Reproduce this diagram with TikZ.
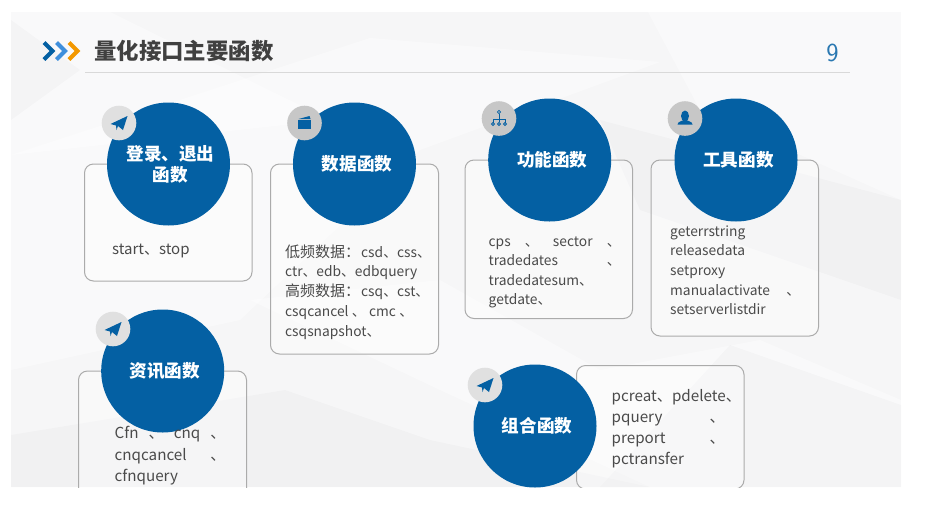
\documentclass[tikz,border=0pt]{standalone}
\usepackage{fontspec}
\setmainfont{Noto Sans CJK SC}
\usetikzlibrary{calc}
\definecolor{bluemain}{HTML}{0460A3}
\definecolor{bluemid}{HTML}{3F8FDC}
\definecolor{orangech}{HTML}{F39800}
\definecolor{txt}{HTML}{4A4A4A}
\definecolor{ttl}{HTML}{404040}
\definecolor{edge}{HTML}{ABABAB}
\definecolor{slide}{HTML}{F6F6F7}
\tikzset{
  x=1pt,y=-1pt,
  bigc/.style={circle,fill=bluemain,minimum size=123pt,inner sep=0pt,text=white,font=\fontsize{17.6}{21}\selectfont\bfseries,align=center},
  smallc/.style={circle,minimum size=34.6pt,inner sep=0pt},
  card/.style={draw=edge,line width=1pt,rounded corners=9pt,fill=white,fill opacity=0.35},
  ln/.style={anchor=base west,inner sep=0pt,text=txt,font=\fontsize{13.8}{16}\selectfont},
  lnb/.style={anchor=base west,inner sep=0pt,text=txt,font=\fontsize{15.2}{18}\selectfont},
  chev/.style={line width=4pt,miter limit=10},
  lite/.style={fill=white,draw=none,fill opacity=0.4},
  dark/.style={fill=black,draw=none,fill opacity=0.018},
}
\newcommand{\plane}[1]{\fill[bluemain] ($(#1)+(-8.5,1)$) -- ($(#1)+(8.5,-7)$) -- ($(#1)+(4,7)$) -- ($(#1)+(-1,3)$) -- ($(#1)+(-2.5,7)$) -- ($(#1)+(-3,2.5)$) -- cycle;}
\newcommand{\cjkbig}[1]{{\fontsize{15}{16}\selectfont #1}}
\begin{document}
\begin{tikzpicture}
\useasboundingbox (0,0) rectangle (934,528);
\fill[white] (0,0) rectangle (934,528);
\begin{scope}
\clip (11,12) rectangle (901,487);
\fill[slide] (11,12) rectangle (901,487);
% background facets
\path[lite] (11,155) -- (370,38) -- (660,62) -- (420,150) -- (240,320) -- (11,370) -- cycle;
\path[lite] (11,12) -- (110,12) -- (330,120) -- (11,155) -- cycle;
\path[lite] (648,12) -- (901,12) -- (901,200) -- (700,110) -- cycle;
\path[lite] (250,300) -- (440,280) -- (600,370) -- (760,340) -- (901,400) -- (901,487) -- (650,487) -- (440,390) -- cycle;
\path[dark] (11,435) -- (285,390) -- (430,440) -- (650,487) -- (11,487) -- cycle;
\path[dark] (730,345) -- (901,405) -- (901,487) -- (600,487) -- cycle;
\path[dark] (600,120) -- (901,200) -- (901,300) -- (640,210) -- cycle;
\path[dark] (11,20) -- (80,70) -- (11,120) -- cycle;
% rule and title
\node[anchor=west,inner sep=0pt,text=ttl,font=\fontsize{22.4}{24}\selectfont\bfseries] (title) at (94,51) {量化接口主要函数};
\node[inner sep=0pt,text=bluemain!85!white,font=\fontsize{26}{26}\selectfont\sffamily] (page) at (832.5,53) {9};
\coordinate (ruleL) at (85,72.5);
\coordinate (ruleR) at (849.5,72.5);
\draw[line width=1.6pt,draw=black!15] (ruleL) -- (ruleR);
\draw[chev,draw=bluemain] (44,42.5) -- (52.5,51) -- (44,59.5);
\draw[chev,draw=bluemid] (56.5,42.5) -- (65,51) -- (56.5,59.5);
\draw[chev,draw=orangech] (69,42.5) -- (77.5,51) -- (69,59.5);
% cards
\path[card] (84.5,164) rectangle (252,281); \node[inner sep=0pt] (card1) at (168,222) {};
\path[card] (270.5,164) rectangle (438.5,354); \node[inner sep=0pt] (card2) at (354,259) {};
\path[card] (465,160) rectangle (632.5,318.5); \node[inner sep=0pt] (card3) at (549,239) {};
\path[card] (651,160) rectangle (818.5,336); \node[inner sep=0pt] (card4) at (735,248) {};
\path[card] (78.5,371) rectangle (246.5,510); \node[inner sep=0pt] (card5) at (162,440) {};
\path[card] (576.5,365.5) rectangle (744,489); \node[inner sep=0pt] (card6) at (660,427) {};
% circles
\node[bigc] (c1) at (168.5,164) {\hspace*{4pt}登录、退出\\\hspace*{4pt}函数};
\node[bigc] (c2) at (354.5,164) {\hspace*{5pt}数据函数};
\node[bigc] (c3) at (549.7,160) {\hspace*{5pt}功能函数};
\node[bigc] (c4) at (736,160) {\hspace*{5pt}工具函数};
\node[bigc] (c5) at (162.7,371) {\hspace*{4pt}资讯函数};
\node[bigc] (c6) at (535,426) {\hspace*{4pt}组合函数};
\node[smallc,fill=black!12] (s1) at (119,123) {};
\node[smallc,fill=black!22] (s2) at (304.5,123) {};
\node[smallc,fill=black!22] (s3) at (499,118.5) {};
\node[smallc,fill=black!22] (s4) at (685,118.5) {};
\node[smallc,fill=black!12] (s5) at (113,329) {};
\node[smallc,fill=black!12] (s6) at (485,385) {};
% icons
\plane{s1}
\plane{s5}
\plane{s6}
\fill[bluemain] ($(s2)+(-6.5,-3)$) rectangle ($(s2)+(6,6)$);
\fill[bluemain] ($(s2)+(-6,-4)$) -- ($(s2)+(5,-7)$) -- ($(s2)+(6,-4)$) -- cycle;
\begin{scope}[draw=bluemain,line width=0.8pt]
\draw ($(s3)+(0,-5)$) -- ($(s3)+(0,3)$);
\draw ($(s3)+(-6,4)$) -- ($(s3)+(-6,1)$) -- ($(s3)+(6,1)$) -- ($(s3)+(6,4)$);
\draw ($(s3)+(0,-6.5)$) circle (1.6pt);
\draw ($(s3)+(-6,5.5)$) circle (1.5pt);
\draw ($(s3)+(0,5.5)$) circle (1.5pt);
\draw ($(s3)+(6,5.5)$) circle (1.5pt);
\end{scope}
\fill[bluemain] ($(s4)+(0,-2.5)$) ellipse (4pt and 5.5pt);
\fill[bluemain] ($(s4)+(-7.5,6)$) .. controls ($(s4)+(-7,2.5)$) and ($(s4)+(-3,3)$) .. ($(s4)+(0,1)$) .. controls ($(s4)+(3,3)$) and ($(s4)+(7,2.5)$) .. ($(s4)+(7.5,6)$) -- cycle;
% card text
\node[ln,font=\fontsize{15}{16}\selectfont] (t1) at (112,254) {start、stop};
\node[ln] (t2a) at (285,257) {\cjkbig{低频数据：}\hspace{1pt}csd、css、};
\node[ln] (t2b) at (285,276) {ctr、edb、edbquery};
\node[ln] (t2c) at (285,296) {\cjkbig{高频数据：}\hspace{1pt}csq、cst、};
\node[ln] (t2d) at (285,316) {\hbox to 128pt{csqcancel\hfill 、\hfill cmc\hfill 、}};
\node[ln] (t2e) at (285,336) {csqsnapshot、};
\node[ln] (t3a) at (488.5,246) {\hbox to 132pt{cps\hfill 、\hfill sector\hfill 、}};
\node[ln] (t3b) at (488.5,265) {\hbox to 132pt{tradedates\hfill 、}};
\node[ln] (t3c) at (488.5,285) {tradedatesum、};
\node[ln] (t3d) at (488.5,304) {getdate、};
\node[ln] (t4a) at (670,236) {geterrstring};
\node[ln] (t4b) at (670,255) {releasedata};
\node[ln] (t4c) at (670,275) {setproxy};
\node[ln] (t4d) at (670,295) {\hbox to 130pt{manualactivate\hfill 、}};
\node[ln] (t4e) at (670,314) {setserverlistdir};
\node[lnb] (t5a) at (114.5,438.5) {\hbox to 111pt{Cfn\hfill 、\hfill cnq\hfill 、}};
\node[lnb] (t5b) at (114.5,460) {\hbox to 111pt{cnqcancel\hfill 、}};
\node[lnb] (t5c) at (114.5,481) {cfnquery};
\node[lnb] (t6a) at (611.5,401) {pcreat、pdelete、};
\node[lnb] (t6b) at (611.5,422) {\hbox to 113pt{pquery\hfill 、}};
\node[lnb] (t6c) at (611.5,443) {\hbox to 113pt{preport\hfill 、}};
\node[lnb] (t6d) at (611.5,464) {pctransfer};
\end{scope}
\end{tikzpicture}
\end{document}
